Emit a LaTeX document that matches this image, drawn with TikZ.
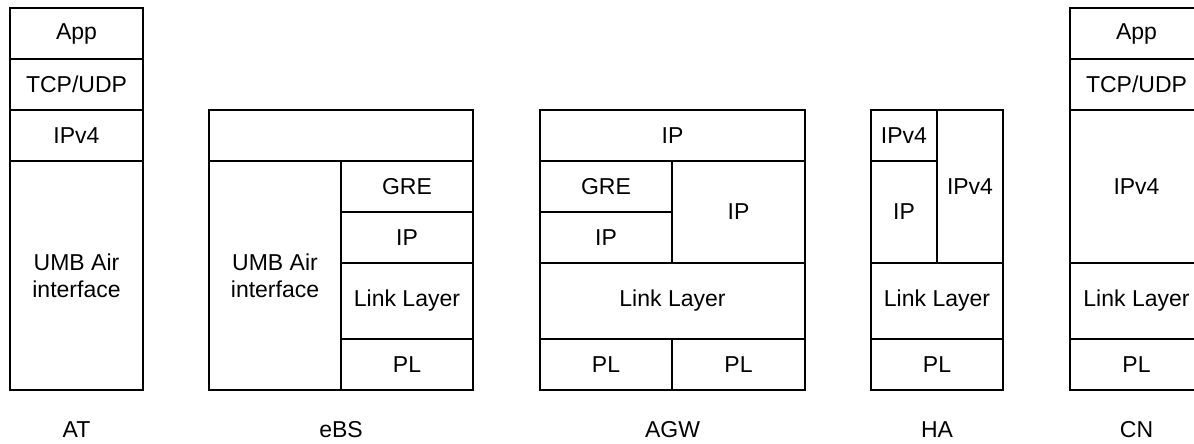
\documentclass[tikz,border=0pt]{standalone}
\usepackage{fontspec}
\setmainfont{Liberation Sans}
\usetikzlibrary{positioning}

\tikzset{
  cell/.style={draw=black,line width=1.2pt,inner sep=0pt,align=center,
               font=\fontsize{23}{27}\selectfont},
  sz/.style 2 args={minimum width=#1pt,minimum height=#2pt},
  tag/.style={font=\fontsize{23}{27}\selectfont}
}

\begin{document}
\begin{tikzpicture}[x=1pt,y=-1pt]
\useasboundingbox (0,0) rectangle (1194,444);

% AT
\begin{scope}[every node/.style={cell}]
	\node[sz={133}{51}] (atapp) at (76.5,33.5) {App};
	\node[sz={133}{51}] (attcp) at (76.5,84.5) {TCP/UDP};
	\node[sz={133}{51}] (atip) at (76.5,135.5) {IPv4};
	\node[sz={133}{229}] (atair) at (76.5,275.5) {UMB Air\\interface};
\end{scope}

% eBS
\begin{scope}[every node/.style={cell}]
	\node[sz={264}{51}] (ebstop) at (341,135.5) {};
	\node[sz={132}{229}] (ebsair) at (275,275.5) {UMB Air\\interface};
	\node[sz={132}{51}] (ebsgre) at (407,186.5) {GRE};
	\node[sz={132}{51}] (ebsip) at (407,237.5) {IP};
	\node[sz={132}{76}] (ebsll) at (407,301) {Link Layer};
	\node[sz={132}{51}] (ebspl) at (407,364.5) {PL};
\end{scope}

% AGW
\begin{scope}[every node/.style={cell}]
	\node[sz={265}{51}] (agwip) at (672.5,135.5) {IP};
	\node[sz={132}{51}] (agwgre) at (606,186.5) {GRE};
	\node[sz={132}{51}] (agwipl) at (606,237.5) {IP};
	\node[sz={133}{102}] (agwipr) at (738.5,212) {IP};
	\node[sz={265}{76}] (agwll) at (672.5,301) {Link Layer};
	\node[sz={132}{51}] (agwpll) at (606,364.5) {PL};
	\node[sz={133}{51}] (agwplr) at (738.5,364.5) {PL};
\end{scope}

% HA
\begin{scope}[every node/.style={cell}]
	\node[sz={66}{51}] (haipv) at (904,135.5) {IPv4};
	\node[sz={66}{102}] (haip) at (904,212) {IP};
	\node[sz={66}{153}] (haipvr) at (970,186.5) {IPv4};
	\node[sz={132}{76}] (hall) at (937,301) {Link Layer};
	\node[sz={132}{51}] (hapl) at (937,364.5) {PL};
\end{scope}

% CN
\begin{scope}[every node/.style={cell}]
	\node[sz={133}{51}] (cnapp) at (1136.5,33.5) {App};
	\node[sz={133}{51}] (cntcp) at (1136.5,84.5) {TCP/UDP};
	\node[sz={133}{153}] (cnip) at (1136.5,186.5) {IPv4};
	\node[sz={133}{76}] (cnll) at (1136.5,301) {Link Layer};
	\node[sz={133}{51}] (cnpl) at (1136.5,364.5) {PL};
\end{scope}

% entity names
\begin{scope}[every node/.style={tag}]
	\node (at) at (76.5,430) {AT};
	\node (ebs) at (341,430) {eBS};
	\node (agw) at (672.5,430) {AGW};
	\node (ha) at (937,430) {HA};
	\node (cn) at (1136.5,430) {CN};
\end{scope}
\end{tikzpicture}
\end{document}
